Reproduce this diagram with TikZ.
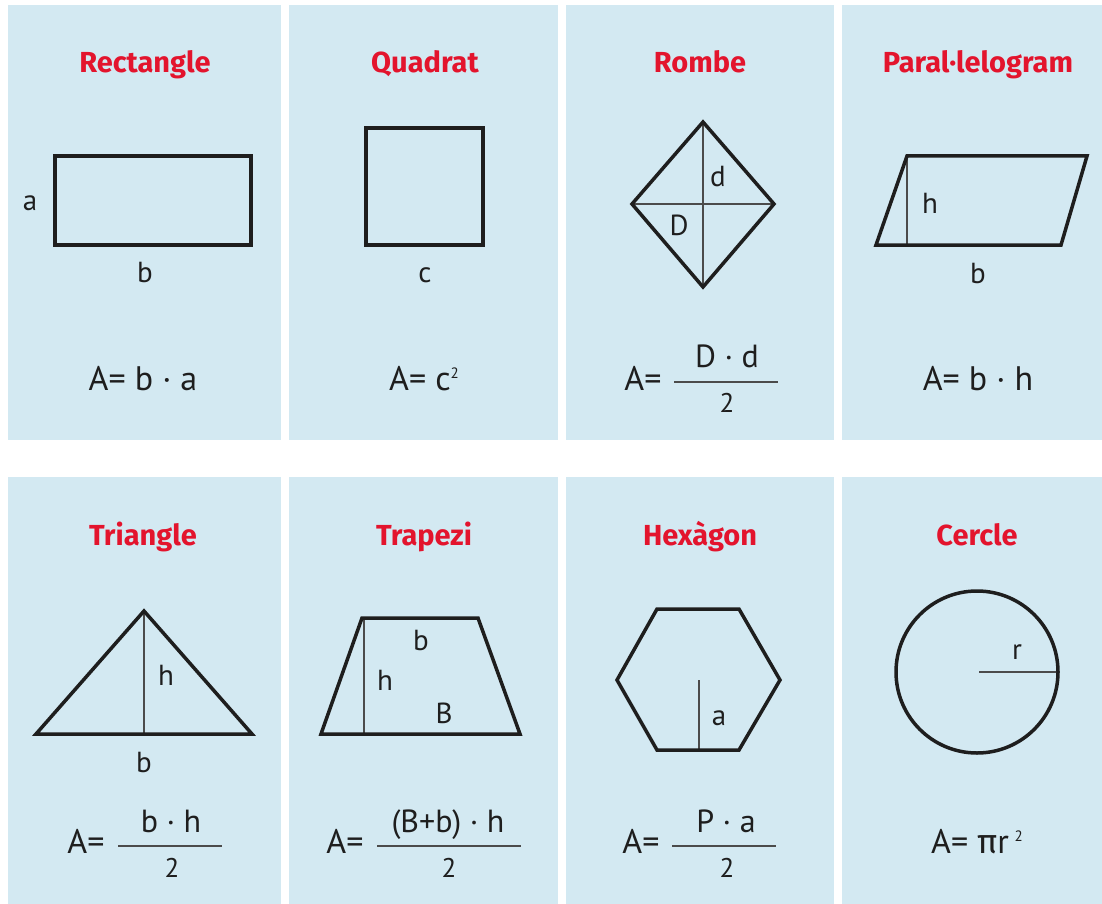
\documentclass[tikz,border=0pt]{standalone}
\usepackage{fontspec}
\setmainfont{PT Sans}
\newfontfamily\pifont{Fira Sans}
\newfontfamily\titlefont{Fira Sans}
\definecolor{panel}{HTML}{D3E9F2}
\definecolor{titlered}{HTML}{E3142D}
\definecolor{ink}{HTML}{1E1E1E}
\newcommand{\supsq}{\raisebox{12pt}{\fontsize{15}{15}\selectfont 2}}
\tikzset{
  panelbox/.style={fill=panel, draw=none},
  ttl/.style={font=\titlefont\fontsize{29}{35}\selectfont\bfseries, text=titlered, inner sep=0pt, anchor=base},
  lbl/.style={font=\fontsize{29}{34}\selectfont, text=ink, inner sep=0pt},
  frm/.style={font=\fontsize{34}{40}\selectfont, text=ink, inner sep=0pt, anchor=base},
  num/.style={font=\fontsize{32}{38}\selectfont, text=ink, inner sep=0pt, anchor=base},
  den/.style={font=\fontsize{27}{32}\selectfont, text=ink, inner sep=0pt, anchor=base},
  outline/.style={draw=ink, line width=3.5pt, line join=miter},
  aux/.style={draw=ink!80, line width=2pt},
  fracline/.style={draw=ink!80, line width=2pt},
}
\begin{document}
\begin{tikzpicture}[x=1pt,y=-1pt]
\useasboundingbox (0,0) rectangle (1102,904);
\fill[white] (0,0) rectangle (1102,904);
% panels
\fill[panelbox] (8,5) rectangle (281,440);
\fill[panelbox] (289,5) rectangle (558,440);
\fill[panelbox] (566,5) rectangle (834,440);
\fill[panelbox] (842,5) rectangle (1102,440);
\fill[panelbox] (8,477) rectangle (281,904);
\fill[panelbox] (289,477) rectangle (558,904);
\fill[panelbox] (566,477) rectangle (834,904);
\fill[panelbox] (842,477) rectangle (1102,904);

% titles
\node[ttl] (t1) at (145,73) {Rectangle};
\node[ttl] (t2) at (425,73) {Quadrat};
\node[ttl] (t3) at (700,73) {Rombe};
\node[ttl] (t4) at (978,73) {Paral·lelogram};
\node[ttl] (t5) at (143,545) {Triangle};
\node[ttl] (t6) at (424,545) {Trapezi};
\node[ttl] (t7) at (700,545) {Hexàgon};
\node[ttl] (t8) at (977,545) {Cercle};

% Rectangle
\draw[outline] (55,156) rectangle (251,245);
\node[lbl] (ra) at (30,203) {a};
\node[lbl] (rb) at (145,272) {b};
\node[frm] (rf) at (143,390) {A= b · a};

% Quadrat
\draw[outline] (366,128) rectangle (483,245);
\node[lbl] (qc) at (425,275) {c};
\node[frm] (qf) at (424,390) {A= c\supsq};

% Rombe
\draw[aux] (703,122) -- (703,287);
\draw[aux] (632,204) -- (774,204);
\draw[outline] (703,122) -- (774,204) -- (703,287) -- (632,204) -- cycle;
\node[lbl] (rd) at (718,177) {d};
\node[lbl] (rD) at (679,225) {D};
\node[frm] (rmA) at (643,390) {A=};
\node[num] (rmN) at (727,367) {D · d};
\draw[fracline] (674,382) -- (778,382);
\node[den] (rmD) at (727,412) {2};

% Paral·lelogram
\draw[aux] (907,156) -- (907,245);
\draw[outline] (907,156) -- (1087,156) -- (1061,245) -- (876,245) -- cycle;
\node[lbl] (ph) at (930,203) {h};
\node[lbl] (pb) at (978,273) {b};
\node[frm] (pf) at (978,390) {A= b · h};

% Triangle
\draw[aux] (144,611) -- (144,734);
\draw[outline] (144,611) -- (252,734) -- (36,734) -- cycle;
\node[lbl] (th) at (166,675) {h};
\node[lbl] (tb) at (144,762) {b};
\node[frm] (trA) at (86,853) {A=};
\node[num] (trN) at (171,832) {b · h};
\draw[fracline] (118,846) -- (222,846);
\node[den] (trD) at (172,877) {2};

% Trapezi
\draw[aux] (364,618) -- (364,734);
\draw[outline] (362,618) -- (478,618) -- (520,734) -- (321,734) -- cycle;
\node[lbl] (zb) at (421,640) {b};
\node[lbl] (zh) at (385,680) {h};
\node[lbl] (zB) at (444,713) {B};
\node[frm] (zA) at (345,853) {A=};
\node[num] (zN) at (448,832) {(B+b) · h};
\draw[fracline] (377,846) -- (521,846);
\node[den] (zD) at (449,877) {2};

% Hexagon
\draw[aux] (699,680) -- (699,750);
\draw[outline] (657,609) -- (739,609) -- (780,680) -- (739,750) -- (657,750) -- (617,680) -- cycle;
\node[lbl] (ha) at (719,718) {a};
\node[frm] (hA) at (641,853) {A=};
\node[num] (hN) at (726,832) {P · a};
\draw[fracline] (672,846) -- (776,846);
\node[den] (hD) at (727,877) {2};

% Cercle
\draw[aux] (979,672) -- (1058,672);
\draw[outline] (977,672) circle[radius=81];
\node[lbl] (cr) at (1017,652) {r};
\node[frm] (cf) at (977,853) {A= {\pifont π}r\,\supsq};
\end{tikzpicture}
\end{document}
